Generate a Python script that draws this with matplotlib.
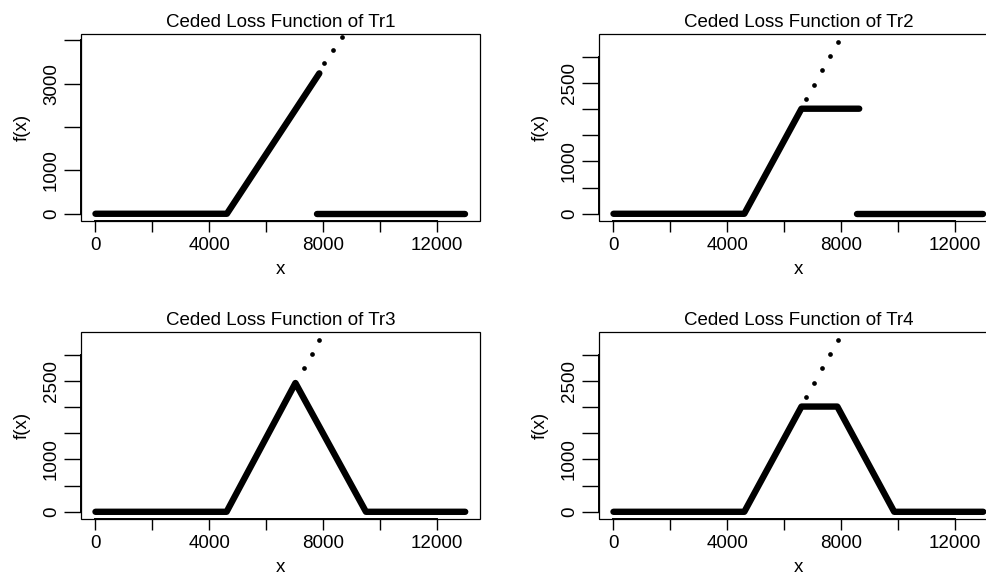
import matplotlib
matplotlib.use("Agg")
import matplotlib.pyplot as plt
from matplotlib.patches import Rectangle

plt.rcParams['font.family'] = ['Liberation Sans', 'DejaVu Sans']

# panel titles
titles = ["Ceded Loss Function of Tr1", "Ceded Loss Function of Tr2",
          "Ceded Loss Function of Tr3", "Ceded Loss Function of Tr4"]

# dense part of each ceded loss curve (breakpoints)
tr1_x = [0, 4620, 7870]
tr1_y = [0, 0, 3240]
tr2_x = [0, 4600, 6610, 8640]
tr2_y = [0, 0, 2005, 2005]
tr3_x = [0, 4610, 7030, 9510, 13000]
tr3_y = [0, 0, 2460, 0, 0]
tr4_x = [0, 4600, 6610, 7870, 9870, 13000]
tr4_y = [0, 0, 2010, 2010, 0, 0]

# second zero piece (Tr1, Tr2 only)
tr1_tail_x = [7780, 13000]
tr1_tail_y = [0, 0]
tr2_tail_x = [8570, 13000]
tr2_tail_y = [0, 0]

# sparse points above
tr1_dot_x = [8040, 8360, 8680]
tr1_dot_y = [3470, 3780, 4075]
tr2_dot_x = [6785, 7056, 7324, 7606, 7887]
tr2_dot_y = [2189, 2462, 2735, 3009, 3277]
tr3_dot_x = [7324, 7606, 7873]
tr3_dot_y = [2740, 3015, 3289]
tr4_dot_x = [6785, 7056, 7324, 7606, 7887]
tr4_dot_y = [2191, 2465, 2740, 3015, 3289]

x_ticks = [0, 2000, 4000, 6000, 8000, 10000, 12000]
x_labels = ["0", "", "4000", "", "8000", "", "12000"]
y_ticks_1 = [0, 1000, 2000, 3000, 4000]
y_labels_1 = ["0", "1000", "", "3000", ""]
y_ticks_2 = [0, 500, 1000, 1500, 2000, 2500, 3000]
y_labels_2 = ["0", "", "1000", "", "", "2500", ""]

panels = [
    (tr1_x, tr1_y, tr1_tail_x, tr1_tail_y, tr1_dot_x, tr1_dot_y, y_ticks_1, y_labels_1, (-160, 4160)),
    (tr2_x, tr2_y, tr2_tail_x, tr2_tail_y, tr2_dot_x, tr2_dot_y, y_ticks_2, y_labels_2, (-132, 3440)),
    (tr3_x, tr3_y, None, None, tr3_dot_x, tr3_dot_y, y_ticks_2, y_labels_2, (-132, 3440)),
    (tr4_x, tr4_y, None, None, tr4_dot_x, tr4_dot_y, y_ticks_2, y_labels_2, (-132, 3440)),
]

W, H = 987, 573
fig = plt.figure(figsize=(W / 100, H / 100), dpi=100)
# axes boxes in pixels: left, top, right, bottom
boxes = [(80.7, 33.5, 480, 220.7), (598.7, 33.5, 998, 220.7),
         (80.7, 331.7, 480, 518.7), (598.7, 331.7, 998, 518.7)]

fs = 13.5
for (px, py, tx, ty, dx, dy, yt, yl, ylim), title, (l, t, r, b) in zip(panels, titles, boxes):
    ax = fig.add_axes([l / W, 1 - b / H, (r - l) / W, (b - t) / H])
    ax.plot(px, py, color="black", lw=4.6, solid_capstyle="round", solid_joinstyle="round")
    if tx is not None:
        ax.plot(tx, ty, color="black", lw=4.6, solid_capstyle="round")
    ax.plot(dx, dy, "o", color="black", ms=3.4, mew=0)
    ax.set_xlim(-520, 13520)
    ax.set_ylim(*ylim)
    ax.set_xticks(x_ticks)
    ax.set_xticklabels(x_labels)
    ax.set_yticks(yt)
    ax.set_yticklabels(yl, rotation=90, va="center")
    ax.tick_params(axis="x", length=8, width=1.0, pad=4, labelsize=fs)
    ax.tick_params(axis="y", length=12, width=1.0, pad=3, labelsize=fs)
    for s in ["top", "right"]:
        ax.spines[s].set_visible(False)
    ax.spines["bottom"].set_bounds(0, 12000)
    ax.spines["left"].set_bounds(yt[0], yt[-1])
    ax.spines["bottom"].set_linewidth(1.4)
    ax.spines["left"].set_linewidth(1.4)
    ax.add_patch(Rectangle((0, 0), 1, 1, transform=ax.transAxes, fill=False,
                           lw=0.9, edgecolor="black", clip_on=False))
    ax.set_title(title, fontsize=fs, pad=5)
    ax.set_xlabel("x", fontsize=fs, labelpad=5)
    ax.set_ylabel("f(x)", fontsize=fs, labelpad=9)

fig.savefig("out.png", dpi=100)
